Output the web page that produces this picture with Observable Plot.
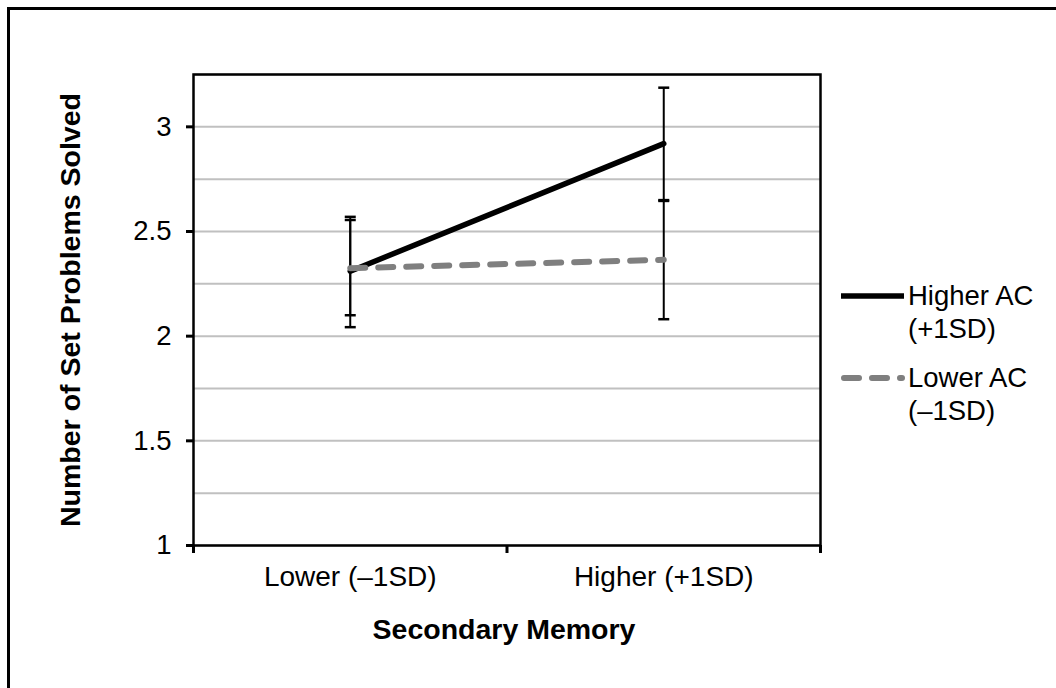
<!DOCTYPE html>
<html>
<head>
<meta charset="utf-8">
<script src="https://cdn.jsdelivr.net/npm/d3@7"></script>
<script src="https://cdn.jsdelivr.net/npm/@observablehq/plot@0.6"></script>
<style>
  html, body { margin: 0; padding: 0; background: #fff; }
  body { width: 1056px; height: 688px; position: relative; overflow: hidden; font-family: "Liberation Sans", Arial, sans-serif; }
  #border { position: absolute; left: 7px; top: 7px; width: 1200px; height: 800px; border-top: 3px solid #000; border-left: 3px solid #000; box-sizing: border-box; pointer-events: none; }
  #legend { position: absolute; left: 840px; top: 279px; font-size: 27.5px; color: #000; line-height: 33px; }
  .item { display: flex; align-items: flex-start; margin-bottom: 16px; }
  .item svg { margin-top: 0px; flex: none; }
  .item .lab { margin-left: 2px; }
</style>
</head>
<body>
<div id="chart"></div>
<div id="legend"></div>
<div id="border"></div>
<script>
// ---- data ----
const categories = ["Lower (\u20131SD)", "Higher (+1SD)"];
const seriesNames = ["Higher AC (+1SD)", "Lower AC (\u20131SD)"];
const legendLines = [["Higher AC", "(+1SD)"], ["Lower AC", "(\u20131SD)"]];
const higherAC = [2.31, 2.92];
const lowerAC = [2.325, 2.365];
const higherACLow = [2.043, 2.65];
const higherACHigh = [2.555, 3.187];
const lowerACLow = [2.10, 2.081];
const lowerACHigh = [2.57, 2.646];
const yTicks = [1, 1.5, 2, 2.5, 3];
const yGrid = [1, 1.25, 1.5, 1.75, 2, 2.25, 2.5, 2.75, 3, 3.25];
const xBoundaries = [0, 1, 2];
const xTitle = "Secondary Memory";
const yTitle = "Number of Set Problems Solved";

// ---- table built from arrays ----
const rows = [];
categories.forEach((c, i) => {
  rows.push({series: seriesNames[0], cat: c, x: i + 0.5, y: higherAC[i], lo: higherACLow[i], hi: higherACHigh[i]});
  rows.push({series: seriesNames[1], cat: c, x: i + 0.5, y: lowerAC[i], lo: lowerACLow[i], hi: lowerACHigh[i]});
});
const caps = rows.flatMap(r => [{x: r.x, y: r.lo}, {x: r.x, y: r.hi}]);
const capSymbol = {draw(ctx) { ctx.moveTo(-5.5, 0); ctx.lineTo(5.5, 0); }};
const font = "Liberation Sans, Arial, sans-serif";

const chart = Plot.plot({
  width: 1056,
  height: 688,
  marginLeft: 193,
  marginRight: 236,
  marginTop: 74,
  marginBottom: 143,
  style: {fontFamily: font, background: "white", color: "black"},
  x: {domain: [0, 2], axis: null},
  y: {domain: [1, 3.25], axis: null},
  marks: [
    Plot.ruleY(yGrid, {stroke: "#c0c0c0", strokeWidth: 2}),
    Plot.frame({stroke: "black", strokeWidth: 2.5}),
    Plot.axisY(yTicks, {tickSize: 7, tickPadding: 15, tickFormat: d => String(d), fontSize: 27.5, strokeWidth: 3, label: null, anchor: "left"}),
    Plot.axisX(xBoundaries, {tickSize: 8, tickFormat: () => "", strokeWidth: 3, label: null, anchor: "bottom"}),
    Plot.axisX(categories.map((c, i) => i + 0.5), {tickSize: 0, tickPadding: 21, tickFormat: d => categories[d - 0.5], fontSize: 28, label: null, anchor: "bottom"}),
    Plot.ruleX(rows, {x: "x", y1: "lo", y2: "hi", stroke: "black", strokeWidth: 2}),
    Plot.dot(caps, {x: "x", y: "y", symbol: capSymbol, stroke: "black", strokeWidth: 2.5, fill: "none", r: 3}),
    Plot.line(rows.filter(r => r.series === seriesNames[0]), {x: "x", y: "y", stroke: "black", strokeWidth: 5.5}),
    Plot.line(rows.filter(r => r.series === seriesNames[1]), {x: "x", y: "y", stroke: "#7f7f7f", strokeWidth: 6, strokeDasharray: "15,13", strokeLinecap: "round"}),
    Plot.text([yTitle], {frameAnchor: "left", textAnchor: "middle", rotate: -90, dx: -123, fontSize: 28.5, fontWeight: "bold", fill: "black"}),
    Plot.text([xTitle], {frameAnchor: "bottom", textAnchor: "middle", dy: 93, dx: -3, fontSize: 28.5, fontWeight: "bold", fill: "black"})
  ]
});
document.getElementById("chart").appendChild(chart);

// ---- legend ----
const legend = d3.select("#legend");
const styles = [{stroke: "black", dash: null, w: 5.5, cap: "butt"}, {stroke: "#7f7f7f", dash: "15,13", w: 6, cap: "round"}];
seriesNames.forEach((s, i) => {
  const item = legend.append("div").attr("class", "item");
  const sv = item.append("svg").attr("width", 66).attr("height", 33);
  sv.append("line").attr("x1", styles[i].cap === "round" ? 4 : 1).attr("x2", styles[i].cap === "round" ? 62 : 64)
    .attr("y1", 17).attr("y2", 17)
    .attr("stroke", styles[i].stroke).attr("stroke-width", styles[i].w)
    .attr("stroke-linecap", styles[i].cap)
    .attr("stroke-dasharray", styles[i].dash);
  const lab = item.append("div").attr("class", "lab");
  legendLines[i].forEach(t => lab.append("div").text(t));
});
</script>
</body>
</html>
